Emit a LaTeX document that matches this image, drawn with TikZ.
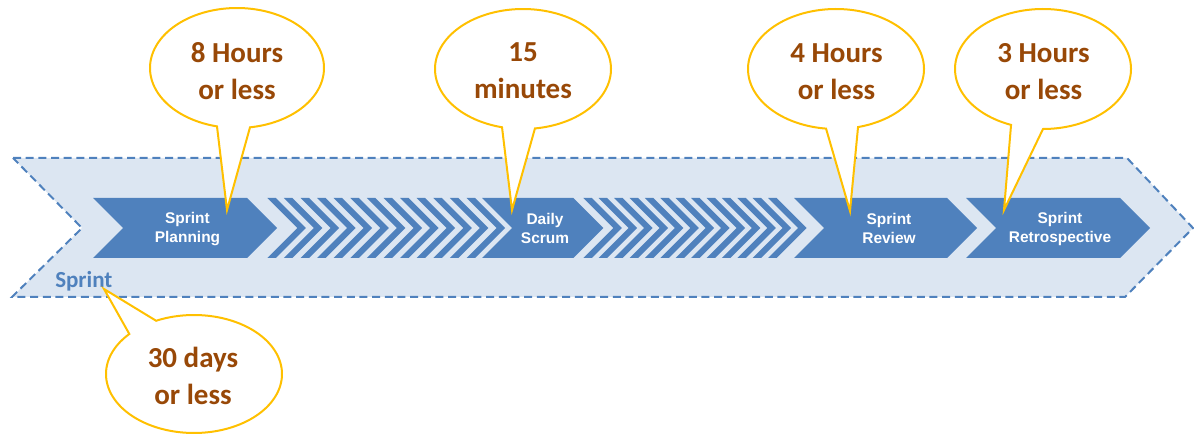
\documentclass[tikz,border=0pt]{standalone}
\usepackage{fontspec}
\newfontfamily\calibrifont{Carlito}
\newfontfamily\arialfont{Liberation Sans}
\definecolor{bgblue}{HTML}{DCE6F2}
\definecolor{midblue}{HTML}{4F81BD}
\definecolor{calloutgold}{HTML}{FFC000}
\definecolor{calloutbrown}{HTML}{984807}
\begin{document}
\begin{tikzpicture}[x=0.75pt,y=-0.75pt,
  bgarrow/.style={fill=bgblue, draw=midblue, line width=1.5pt, dash pattern=on 6pt off 3.5pt},
  chev/.style={fill=midblue},
  chevtext/.style={text=white, font=\arialfont\bfseries\fontsize{11.6}{14.25}\selectfont, align=center, inner sep=0pt},
  callout/.style={draw=calloutgold, line width=1.5pt, fill=white},
  calltext/.style={text=calloutbrown, font=\calibrifont\bfseries\fontsize{21.75}{27.75}\selectfont, align=center, inner sep=0pt},
  sprintlabel/.style={text=midblue, font=\calibrifont\bfseries\fontsize{17.25}{20}\selectfont, inner sep=0pt, anchor=base west}
]
\useasboundingbox (0,0) rectangle (1194,434);

% background sprint arrow
\draw[bgarrow] (13,158) -- (1127,158) -- (1193,228) -- (1125,297) -- (12,297) -- (82,228) -- cycle;

% chevrons
\newcommand\mychevron[2]{\fill[midblue] (#1,198) -- (#2,198) -- ({#2+30},228) -- (#2,258) -- (#1,258) -- ({#1+30},228) -- cycle;}
\mychevron{93}{247}
\mychevron{482}{573.3}
\mychevron{794}{947}
\mychevron{966}{1120}

% stripes
\foreach \i in {0,...,12}{
  \pgfmathsetmacro\xs{267.3+16.6*\i}
  \fill[midblue] (\xs,198) -- ++(8.5,0) -- ++(30,30) -- ++(-30,30) -- ++(-8.5,0) -- ++(30,-30) -- cycle;
}
\foreach \i in {0,...,12}{
  \pgfmathsetmacro\xs{583.3+15.4*\i}
  \fill[midblue] (\xs,198) -- ++(8.5,0) -- ++(30,30) -- ++(-30,30) -- ++(-8.5,0) -- ++(30,-30) -- cycle;
}

% chevron labels
\node[chevtext] (plan) at (187.5,229.5) {Sprint\\Planning};
\node[chevtext] (daily) at (545,228.5) {Daily\\Scrum};
\node[chevtext] (review) at (889,228) {Sprint\\Review};
\node[chevtext] (retro) at (1060,229.5) {Sprint\\Retrospective};

% sprint label
\node[sprintlabel] (sprint) at (55,287.5) {Sprint};

% callout tips
\coordinate (tip8) at (227,210);
\coordinate (tip15) at (512,210);
\coordinate (tip4) at (850,211);
\coordinate (tip3) at (1004,210);
\coordinate (tip30) at (104,289);

% callouts
\draw[callout] plot[domain=103.3:441.4, samples=140] ({237+87*cos(\x)},{68+60*sin(\x)}) -- (tip8) -- cycle;
\node[calltext] (c8) at (237,71) {8 Hours\\or less};

\draw[callout] plot[domain=103.8:442.2, samples=140] ({523+88*cos(\x)},{69+60*sin(\x)}) -- (tip15) -- cycle;
\node[calltext] (c15) at (523,71) {15\\minutes};

\draw[callout] plot[domain=96.5:435.5, samples=140] ({836+88*cos(\x)},{69+60*sin(\x)}) -- (tip4) -- cycle;
\node[calltext] (c4) at (836.5,71.3) {4 Hours\\or less};

\draw[callout] plot[domain=111.3:450, samples=140] ({1043+88*cos(\x)},{69+60*sin(\x)}) -- (tip3) -- cycle;
\node[calltext] (c3) at (1043.5,72) {3 Hours\\or less};

\draw[callout] plot[domain=244.5:582.7, samples=140] ({194+88*cos(\x)},{374+59*sin(\x)}) -- (tip30) -- cycle;
\node[calltext] (c30) at (193,376.4) {30 days\\or less};
\end{tikzpicture}
\end{document}
